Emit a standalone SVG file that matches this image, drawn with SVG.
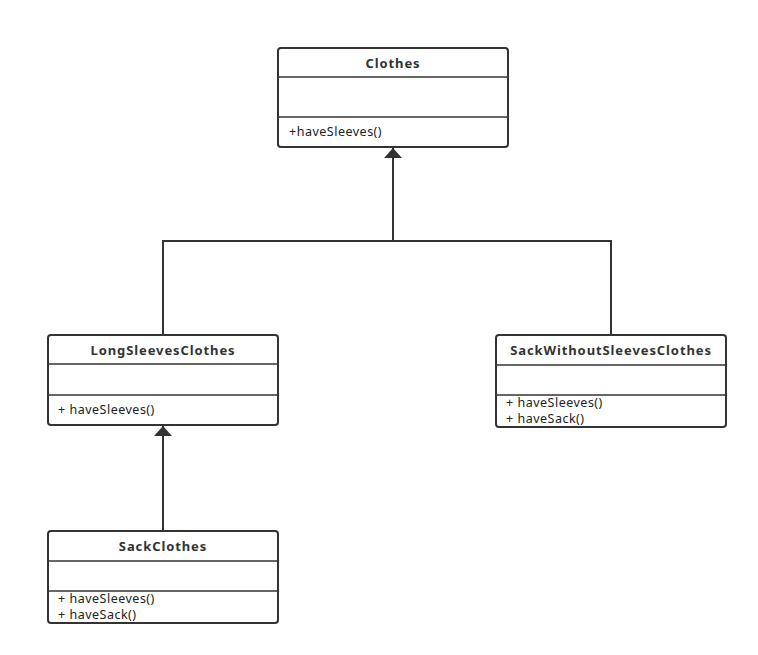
<svg xmlns="http://www.w3.org/2000/svg" width="758" height="655" viewBox="0 0 758 655">
<defs>
<style>
.box{fill:#fff;stroke:#333;stroke-width:2}
.div{stroke:#333;stroke-width:1.5}
.title{font-family:"Noto Sans","Open Sans",sans-serif;font-size:13px;font-weight:bold;fill:#333;text-anchor:middle;letter-spacing:0.9px}
.m{font-family:"Noto Sans","Open Sans",sans-serif;font-size:12.5px;fill:#222;letter-spacing:0.5px}
.c{fill:none;stroke:#333;stroke-width:2}
</style>
<marker id="tri" viewBox="0 0 10 18" refX="10" refY="9" markerWidth="10" markerHeight="18" markerUnits="userSpaceOnUse" orient="auto">
<path d="M0,0 L10,9 L0,18 Z" fill="#333"/>
</marker>
</defs>
<rect width="758" height="655" fill="#fff"/>
<g id="connectors">
<path class="c" d="M163,335 V241 H611 V335"/>
<path class="c" d="M393,241 V148" marker-end="url(#tri)"/>
<path class="c" d="M163,531 V426" marker-end="url(#tri)"/>
</g>
<g id="clothes">
<rect class="box" x="278" y="48" width="230" height="99" rx="3"/>
<line class="div" x1="278" y1="77" x2="508" y2="77"/>
<line class="div" x1="278" y1="117" x2="508" y2="117"/>
<text class="title" x="393" y="68">Clothes</text>
<text class="m" x="289" y="136">+haveSleeves()</text>
</g>
<g id="longSleevesClothes">
<rect class="box" x="48" y="335" width="230" height="90" rx="3"/>
<line class="div" x1="48" y1="364" x2="278" y2="364"/>
<line class="div" x1="48" y1="395" x2="278" y2="395"/>
<text class="title" x="163" y="355">LongSleevesClothes</text>
<text class="m" x="58" y="414">+ haveSleeves()</text>
</g>
<g id="sackWithoutSleevesClothes">
<rect class="box" x="496" y="335" width="230" height="92" rx="3"/>
<line class="div" x1="496" y1="365" x2="726" y2="365"/>
<line class="div" x1="496" y1="395" x2="726" y2="395"/>
<text class="title" x="611" y="355">SackWithoutSleevesClothes</text>
<text class="m" x="506" y="407">+ haveSleeves()</text>
<text class="m" x="506" y="423">+ haveSack()</text>
</g>
<g id="sackClothes">
<rect class="box" x="48" y="531" width="230" height="92" rx="3"/>
<line class="div" x1="48" y1="561" x2="278" y2="561"/>
<line class="div" x1="48" y1="591" x2="278" y2="591"/>
<text class="title" x="163" y="551">SackClothes</text>
<text class="m" x="58" y="603">+ haveSleeves()</text>
<text class="m" x="58" y="619">+ haveSack()</text>
</g>
</svg>
